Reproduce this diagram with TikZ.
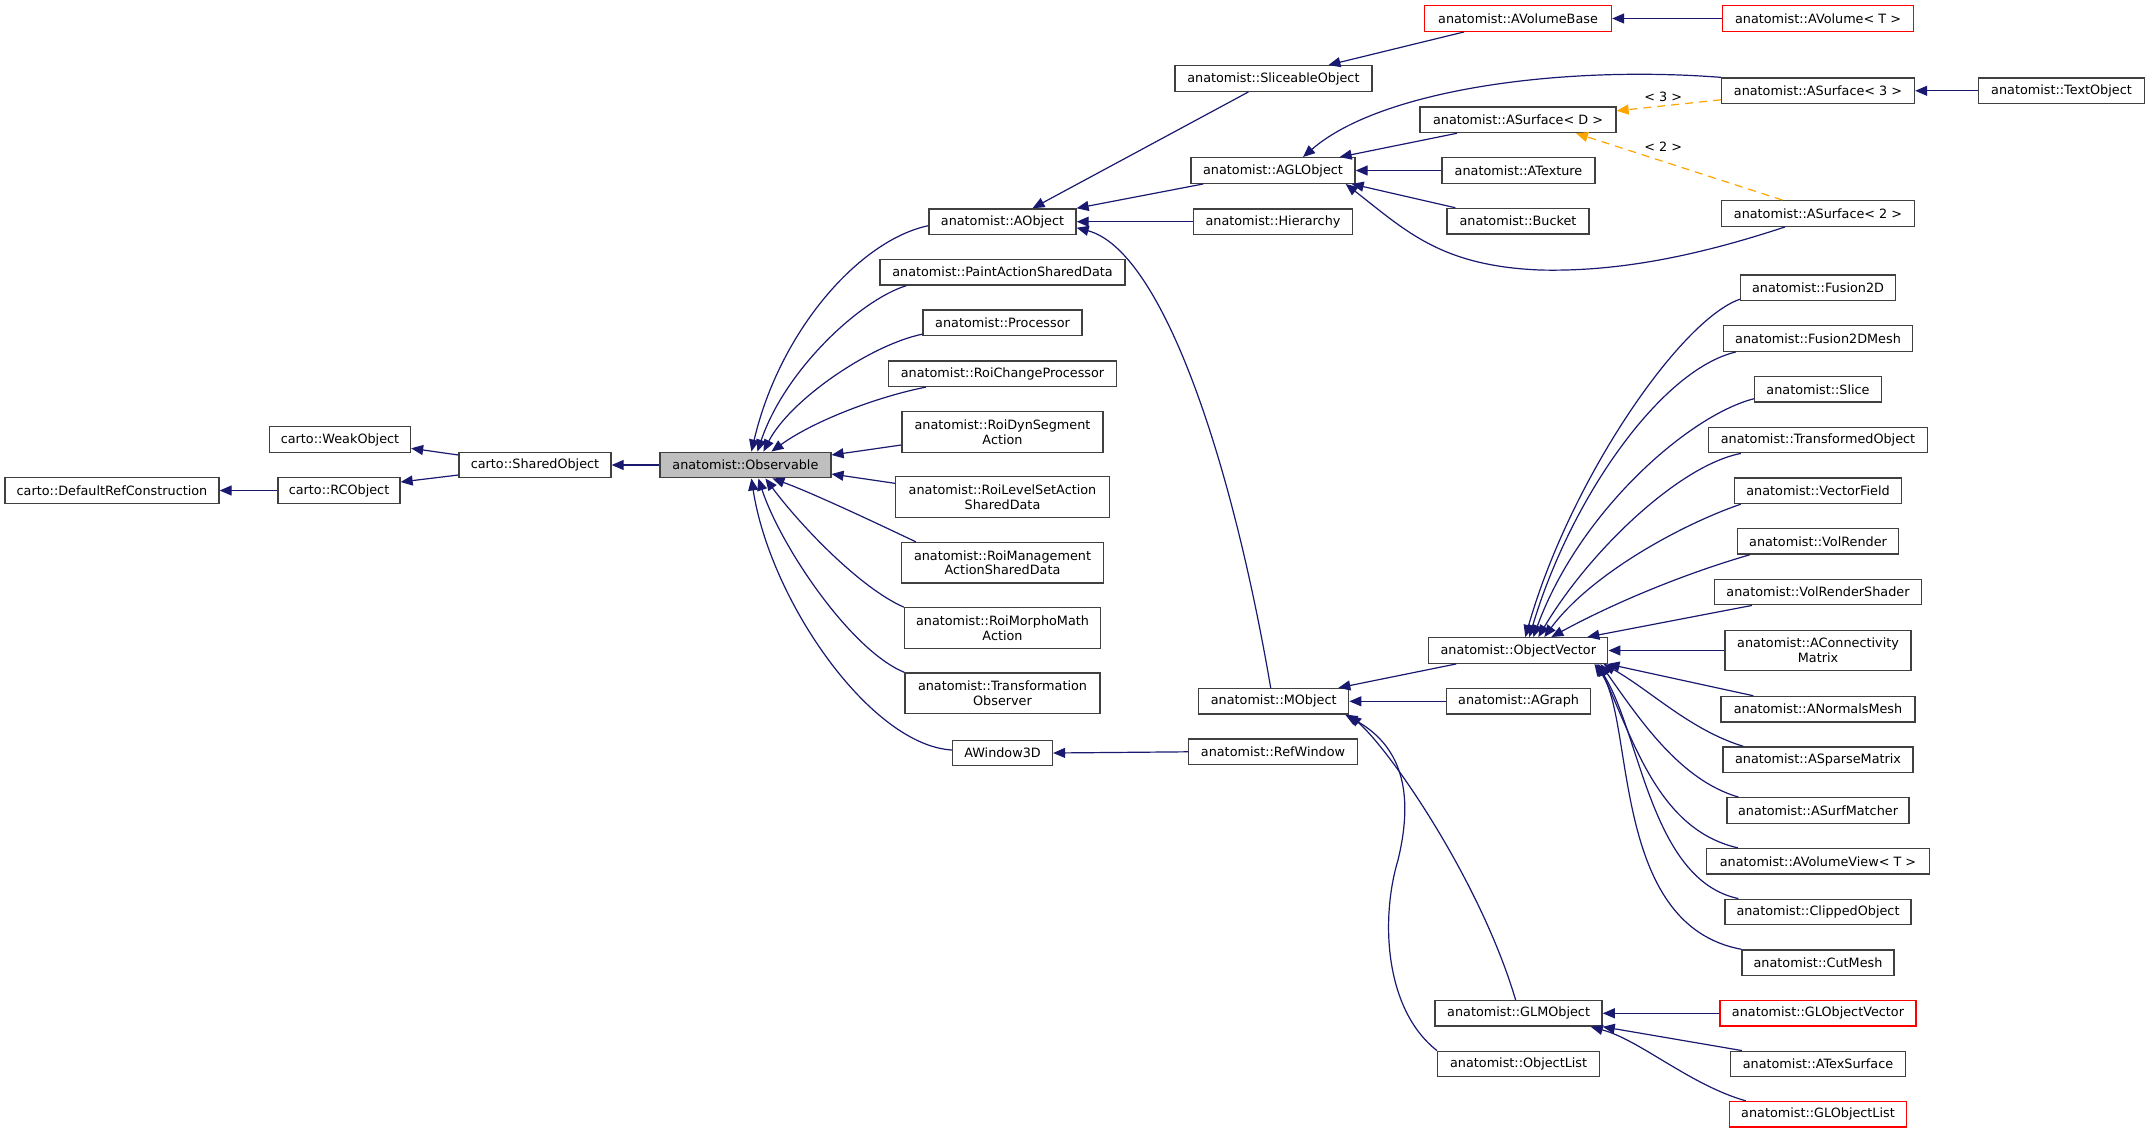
\documentclass[tikz,border=0pt]{standalone}
\usepackage{fontspec}
\setmainfont{DejaVu Sans}
\usetikzlibrary{arrows.meta}
\definecolor{edgeblue}{HTML}{191970}
\definecolor{boxborder}{HTML}{404040}
\definecolor{obsfill}{HTML}{BFBFBF}
\definecolor{tmplorange}{HTML}{FFA500}
\definecolor{redborder}{HTML}{FF0000}
\newcommand\dxfont{\fontsize{12.8}{14.8}\selectfont}
\tikzset{
  cls/.style={draw=boxborder, line width=1.3pt, minimum height=25.6pt, inner sep=0pt, font=\dxfont, align=center},
  cls2/.style={cls, minimum height=40.4pt},
  redcls/.style={cls, draw=redborder},
  inh/.style={draw=edgeblue, line width=1.2pt, -{Triangle[length=12pt,width=10pt]}},
  tmpl/.style={draw=tmplorange, line width=1.2pt, dash pattern=on 8pt off 6pt, -{Triangle[length=12pt,width=10pt]}},
  lbl/.style={font=\dxfont, inner sep=0pt}
}
\begin{document}
\begin{tikzpicture}[x=1pt,y=1pt]
\fill[white] (0,0) rectangle (2149,-1133);
\useasboundingbox (0,0) rectangle (2149,-1133);

% nodes
\node[cls, minimum width=214pt] (drc) at (112,-490.5) {carto::DefaultRefConstruction};
\node[cls, minimum width=141pt] (weak) at (340,-439.5) {carto::WeakObject};
\node[cls, minimum width=122pt] (rco) at (339,-490.5) {carto::RCObject};
\node[cls, minimum width=152pt] (shared) at (535,-465) {carto::SharedObject};
\node[cls, minimum width=171pt, fill=obsfill] (obs) at (745.4,-465) {anatomist::Observable};

\node[cls, minimum width=147pt] (aobj) at (1002.5,-221.7) {anatomist::AObject};
\node[cls, minimum width=245pt] (paint) at (1002.5,-272.2) {anatomist::PaintActionSharedData};
\node[cls, minimum width=159pt] (proc) at (1002.5,-322.7) {anatomist::Processor};
\node[cls, minimum width=228pt] (roichg) at (1002.5,-373.7) {anatomist::RoiChangeProcessor};
\node[cls2, minimum width=201pt] (roidyn) at (1002.5,-432) {anatomist::RoiDynSegment\\Action};
\node[cls2, minimum width=214pt] (roilvl) at (1002.5,-497) {anatomist::RoiLevelSetAction\\SharedData};
\node[cls2, minimum width=202pt] (roimgmt) at (1002.5,-562.7) {anatomist::RoiManagement\\ActionSharedData};
\node[cls2, minimum width=196pt] (roimorph) at (1002.5,-628) {anatomist::RoiMorphoMath\\Action};
\node[cls2, minimum width=195pt] (trobs) at (1002.5,-693.2) {anatomist::Transformation\\Observer};
\node[cls, minimum width=100pt] (aw3d) at (1002.5,-753) {AWindow3D};

\node[cls, minimum width=197pt] (sliceobj) at (1273.4,-78.5) {anatomist::SliceableObject};
\node[cls, minimum width=164pt] (aglo) at (1273,-170.5) {anatomist::AGLObject};
\node[cls, minimum width=159pt] (hier) at (1273,-221.7) {anatomist::Hierarchy};
\node[cls, minimum width=150pt] (mobj) at (1273.7,-701.3) {anatomist::MObject};
\node[cls, minimum width=169pt] (refwin) at (1273,-751.8) {anatomist::RefWindow};

\node[redcls, minimum width=187pt] (avolb) at (1518,-18.5) {anatomist::AVolumeBase};
\node[redcls, minimum width=191pt] (avol) at (1818,-18.5) {anatomist::AVolume< T >};
\node[cls, minimum width=196pt] (asurfd) at (1518,-119.8) {anatomist::ASurface< D >};
\node[cls, minimum width=153pt] (atex) at (1518.5,-170.5) {anatomist::ATexture};
\node[cls, minimum width=142pt] (bucket) at (1518,-221.2) {anatomist::Bucket};
\node[cls, minimum width=193pt] (asurf3) at (1818,-90.8) {anatomist::ASurface< 3 >};
\node[cls, minimum width=193pt] (asurf2) at (1818,-213.5) {anatomist::ASurface< 2 >};
\node[cls, minimum width=166pt] (textobj) at (2061.5,-90.8) {anatomist::TextObject};

\node[cls, minimum width=179pt] (objvec) at (1518.3,-650.5) {anatomist::ObjectVector};
\node[cls, minimum width=144pt] (agraph) at (1518.6,-701.3) {anatomist::AGraph};
\node[cls, minimum width=167pt] (glm) at (1518.6,-1013.3) {anatomist::GLMObject};
\node[cls, minimum width=162pt] (objlist) at (1518.6,-1064) {anatomist::ObjectList};

\node[cls, minimum width=155pt] (fusion2d) at (1818,-287.8) {anatomist::Fusion2D};
\node[cls, minimum width=189pt] (fusion2dm) at (1818,-338.5) {anatomist::Fusion2DMesh};
\node[cls, minimum width=127pt] (slice) at (1818,-389.3) {anatomist::Slice};
\node[cls, minimum width=219pt] (transobj) at (1818,-440) {anatomist::TransformedObject};
\node[cls, minimum width=167pt] (vecfield) at (1818,-490.7) {anatomist::VectorField};
\node[cls, minimum width=161pt] (volrender) at (1818,-541.3) {anatomist::VolRender};
\node[cls, minimum width=207pt] (volrs) at (1818,-592) {anatomist::VolRenderShader};
\node[cls2, minimum width=186pt] (aconn) at (1818,-650.5) {anatomist::AConnectivity\\Matrix};
\node[cls, minimum width=194pt] (anormal) at (1818,-709.2) {anatomist::ANormalsMesh};
\node[cls, minimum width=190pt] (asparse) at (1818,-759.8) {anatomist::ASparseMatrix};
\node[cls, minimum width=182pt] (asurfm) at (1818,-810.5) {anatomist::ASurfMatcher};
\node[cls, minimum width=223pt] (avolview) at (1818,-861.3) {anatomist::AVolumeView< T >};
\node[cls, minimum width=186pt] (clipped) at (1818,-912) {anatomist::ClippedObject};
\node[cls, minimum width=152pt] (cutmesh) at (1818,-962.7) {anatomist::CutMesh};
\node[redcls, minimum width=196pt] (globjvec) at (1818,-1013.3) {anatomist::GLObjectVector};
\node[cls, minimum width=175pt] (atexsurf) at (1818,-1064) {anatomist::ATexSurface};
\node[redcls, minimum width=177pt] (globjlist) at (1818,-1114.3) {anatomist::GLObjectList};

% left cluster
\draw[inh] (rco.west) -- (drc.east);
\draw[inh] ([yshift=10pt]shared.west) -- ([yshift=-8.8pt]weak.east);
\draw[inh] ([yshift=-10pt]shared.west) -- ([yshift=8.5pt]rco.east);
\draw[inh] (obs.west) -- (shared.east);

% Observable fan
\draw[inh] ([yshift=-4pt]aobj.west) .. controls (860,-240) and (780,-330) .. ([xshift=6pt]obs.north);
\draw[inh] ([xshift=27pt]paint.south west) .. controls (860,-300) and (785,-370) .. ([xshift=12pt]obs.north);
\draw[inh] ([yshift=2pt]proc.south west) .. controls (870,-345) and (790,-400) .. ([xshift=18pt]obs.north);
\draw[inh] ([xshift=38pt]roichg.south west) .. controls (880,-396) and (815,-420) .. ([xshift=26pt]obs.north);
\draw[inh] ([yshift=-13pt]roidyn.west) -- ([yshift=10pt]obs.east);
\draw[inh] ([yshift=13.7pt]roilvl.west) -- ([yshift=-9pt]obs.east);
\draw[inh] ([xshift=15pt]roimgmt.north west) .. controls (870,-520) and (810,-492) .. ([xshift=27pt]obs.south);
\draw[inh] (roimorph.north west) .. controls (860,-588) and (800,-525) .. ([xshift=20pt]obs.south);
\draw[inh] (trobs.north west) .. controls (850,-650) and (780,-545) .. ([xshift=13pt]obs.south);
\draw[inh] ([yshift=3pt]aw3d.west) .. controls (870,-745) and (770,-600) .. ([xshift=6pt]obs.south);

% AObject children
\draw[inh] ([xshift=-25pt]sliceobj.south) -- ([xshift=30pt]aobj.north);
\draw[inh] ([xshift=13pt]aglo.south west) -- (aobj.north east);
\draw[inh] (hier.west) -- (aobj.east);
\draw[inh] ([xshift=-3pt]mobj.north) .. controls (1230,-450) and (1160,-250) .. ([yshift=-6pt]aobj.east);
\draw[inh] (refwin.west) -- (aw3d.east);

% upper right
\draw[inh] ([xshift=-54pt]avolb.south) -- ([xshift=55pt]sliceobj.north);
\draw[inh] (avol.west) -- (avolb.east);
\draw[inh] ([xshift=-61pt]asurfd.south) -- ([xshift=-16pt]aglo.north east);
\draw[inh] (atex.west) -- (aglo.east);
\draw[inh] ([xshift=9pt]bucket.north west) -- ([xshift=-4pt]aglo.south east);
\draw[inh] (asurf3.north west) .. controls (1560,-65) and (1380,-90) .. ([xshift=30pt]aglo.north);
\draw[inh] ([xshift=-33pt]asurf2.south) .. controls (1700,-255) and (1620,-272) .. (1540,-270)
   .. controls (1440,-266) and (1405,-230) .. ([xshift=-10pt]aglo.south east);
\draw[tmpl] ([yshift=-9pt]asurf3.west) -- ([yshift=9pt]asurfd.east);
\draw[tmpl] ([xshift=-35.6pt]asurf2.north) -- ([xshift=58pt]asurfd.south);
\node[lbl] (lab3) at (1663.3,-96.7) {< 3 >};
\node[lbl] (lab2) at (1663.3,-146.7) {< 2 >};
\draw[inh] (textobj.west) -- (asurf3.east);

% ObjectVector fan
\draw[inh] ([yshift=2pt]fusion2d.south west) .. controls (1680,-320) and (1570,-480) .. ([xshift=7pt]objvec.north);
\draw[inh] ([xshift=13pt]fusion2dm.south west) .. controls (1660,-370) and (1570,-500) .. ([xshift=11pt]objvec.north);
\draw[inh] ([yshift=4pt]slice.south west) .. controls (1690,-415) and (1580,-510) .. ([xshift=15pt]objvec.north);
\draw[inh] ([xshift=33pt]transobj.south west) .. controls (1680,-465) and (1590,-550) .. ([xshift=20pt]objvec.north);
\draw[inh] ([xshift=7pt]vecfield.south west) .. controls (1680,-525) and (1590,-575) .. ([xshift=26pt]objvec.north);
\draw[inh] ([xshift=13pt]volrender.south west) .. controls (1680,-575) and (1610,-605) .. ([xshift=33pt]objvec.north);
\draw[inh] ([xshift=38pt]volrs.south west) -- ([xshift=69pt]objvec.north);
\draw[inh] (aconn.west) -- (objvec.east);
\draw[inh] ([xshift=33pt]anormal.north west) -- ([xshift=-1pt]objvec.south east);
\draw[inh] ([xshift=21pt]asparse.north west) .. controls (1690,-730) and (1650,-690) .. ([xshift=-5pt]objvec.south east);
\draw[inh] ([xshift=12pt]asurfm.north west) .. controls (1680,-780) and (1640,-720) .. ([xshift=-8pt]objvec.south east);
\draw[inh] ([xshift=32pt]avolview.north west) .. controls (1660,-830) and (1635,-745) .. ([xshift=-10pt]objvec.south east);
\draw[inh] ([xshift=14pt]clipped.north west) .. controls (1650,-880) and (1640,-730) .. ([xshift=-12pt]objvec.south east);
\draw[inh] (cutmesh.north west) .. controls (1610,-925) and (1635,-720) .. ([xshift=-14pt]objvec.south east);

% MObject children
\draw[inh] ([xshift=28pt]objvec.south west) -- ([xshift=-11pt]mobj.north east);
\draw[inh] (agraph.west) -- (mobj.east);
\draw[inh] ([xshift=-3pt]glm.north) .. controls (1480,-880) and (1390,-750) .. (mobj.south east);
\draw[inh] (objlist.north west) .. controls (1385,-1010) and (1380,-920) .. (1398,-860)
   .. controls (1415,-790) and (1400,-745) .. ([xshift=-4pt]mobj.south east);

% GLMObject children
\draw[inh] (globjvec.west) -- (glm.east);
\draw[inh] ([xshift=12pt]atexsurf.north west) -- (glm.south east);
\draw[inh] ([xshift=17pt]globjlist.north west) .. controls (1690,-1085) and (1640,-1040) .. ([xshift=-12pt]glm.south east);
\end{tikzpicture}
\end{document}
